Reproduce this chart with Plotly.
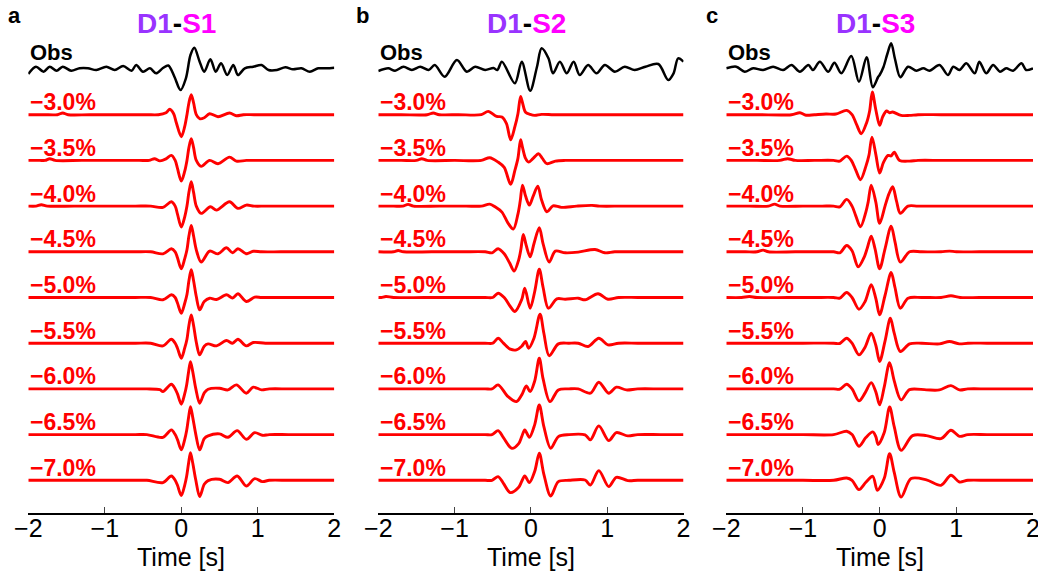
import plotly.graph_objects as go

# ---------------------------------------------------------------------------
# Waveform data: (time [s], normalized amplitude) knots for each trace.
# Amplitudes share one arbitrary scale; traces are stacked by TRACE_STEP.
# ---------------------------------------------------------------------------
PERCENTS = [-3.0, -3.5, -4.0, -4.5, -5.0, -5.5, -6.0, -6.5, -7.0]
TICKS = [-2, -1, 0, 1, 2]
PANEL_LETTERS = ["a", "b", "c"]
PANEL_STATIONS = ["S1", "S2", "S3"]

# ---- D1-S1 ----
a_obs = [(-2.0, -5), (-1.9, 2.3), (-1.8, -2.7), (-1.72, 2.3), (-1.63, -1.7), (-1.55, 2.3),
         (-1.44, -1.7), (-1.33, 0.7), (-1.22, 0.7), (-1.11, -1), (-0.98, 2.3), (-0.87, -1),
         (-0.76, 3), (-0.65, -1.7), (-0.59, 4), (-0.5, -2.7), (-0.41, 0.7), (-0.33, -4.3),
         (-0.24, 1), (-0.17, 3.5), (-0.09, -7.7), (-0.01, -21), (0.06, -9.3), (0.12, 14),
         (0.17, 21.3), (0.24, 7.3), (0.3, -2.7), (0.38, 9.7), (0.45, -2.7), (0.52, 5.7),
         (0.6, -6), (0.68, 4), (0.74, -6), (0.83, 0.7), (0.94, 2.3), (1.05, 4), (1.14, -1),
         (1.25, -1), (1.36, 1.7), (1.46, -0.3), (1.57, 0.7), (1.68, -2.7), (1.79, 0.7),
         (1.9, 0.7), (2.0, 1.3)]
a_m30 = [(-2, 0), (-1.8, 0), (-1.62, 0), (-1.55, 1.7), (-1.48, 0), (-1.2, 0), (-0.8, 0),
         (-0.45, 0), (-0.3, 0), (-0.2, 2), (-0.15, 5.5), (-0.1, 1), (-0.065, -8), (0, -22),
         (0.044, -12), (0.074, 0), (0.1, 12), (0.13, 20), (0.16, 12), (0.196, 0), (0.24, -4),
         (0.3, -3), (0.37, 1), (0.48, -2), (0.63, 1.7), (0.72, -1), (0.81, 0), (0.95, 0),
         (1.3, 0), (1.7, 0), (2, 0)]
a_m35 = [(-2, 0), (-1.85, 0), (-1.78, 0), (-1.72, 1.7), (-1.65, 0), (-1.3, 0), (-0.9, 0),
         (-0.55, 0), (-0.42, 0), (-0.35, 1.7), (-0.28, -0.5), (-0.2, 1.5), (-0.13, 5), (-0.08, 0),
         (-0.05, -8), (0, -20.7), (0.044, -11), (0.074, 0), (0.1, 13), (0.13, 21.7), (0.16, 13),
         (0.196, 0), (0.26, -6), (0.37, 0), (0.48, -3.3), (0.63, 3.3), (0.72, -0.7), (0.85, 0),
         (1.0, 0), (1.4, 0), (1.8, 0), (2, 0)]
a_m40 = [(-2, 0), (-1.9, 0), (-1.83, 1.3), (-1.75, 0), (-1.4, 0), (-1.0, 0), (-0.6, 0),
         (-0.4, 0), (-0.24, -1.3), (-0.13, 4.3), (-0.08, 0), (-0.05, -8), (0, -21), (0.044, -11),
         (0.074, 0), (0.1, 14), (0.13, 24.3), (0.16, 14), (0.196, 0), (0.26, -7.3), (0.38, -0.7),
         (0.46, -4), (0.63, 4.3), (0.74, -2.3), (0.85, 1), (0.95, 0), (1.1, 0), (1.5, 0),
         (2, 0)]
a_m45 = [(-2, 0), (-1.5, 0), (-1.0, 0), (-0.6, 0), (-0.4, 0), (-0.24, -2), (-0.13, 3),
         (-0.08, 0), (-0.05, -6), (0, -17), (0.044, -7), (0.074, 2), (0.1, 16), (0.13, 26.3),
         (0.16, 16), (0.196, 2), (0.26, -10.3), (0.37, 0.7), (0.48, -2), (0.59, 4), (0.67, -1),
         (0.74, 3), (0.85, -2), (0.94, 0.5), (1.05, 0), (1.3, 0), (1.7, 0), (2, 0)]
a_m50 = [(-2, 0), (-1.5, 0), (-1.0, 0), (-0.6, 0), (-0.4, 0), (-0.24, -2.3), (-0.13, 2.7),
         (-0.08, 0), (-0.05, -5.5), (0, -15.7), (0.044, -6), (0.074, 3), (0.1, 17), (0.13, 27.7),
         (0.16, 17), (0.196, 1), (0.24, -12.3), (0.3, -4), (0.37, -0.7), (0.46, -2), (0.59, 2.7),
         (0.67, -0.5), (0.74, 3.7), (0.85, -4), (0.96, 0.3), (1.05, 0), (1.3, 0), (1.7, 0),
         (2, 0)]
a_m55 = [(-2, 0), (-1.5, 0), (-1.0, 0), (-0.6, 0), (-0.4, 0), (-0.24, -2.7), (-0.13, 4),
         (-0.08, 0), (-0.05, -5), (0, -15), (0.044, -5), (0.074, 4), (0.1, 18), (0.13, 28.3),
         (0.16, 18), (0.196, 1), (0.24, -11.7), (0.3, -3), (0.35, -0.7), (0.46, -2.7),
         (0.59, 2.7), (0.67, 0), (0.74, 4), (0.85, -2.7), (0.94, 0.7), (1.1, 0), (1.4, 0),
         (1.7, 0), (2, 0)]
a_m60 = [(-2, 0), (-1.5, 0), (-1.0, 0), (-0.6, 0), (-0.45, 0), (-0.28, -0.7), (-0.24, -2.7),
         (-0.13, 4.7), (-0.08, 0), (-0.05, -5), (0, -15.3), (0.044, -5), (0.07, 4), (0.095, 17),
         (0.12, 27.3), (0.15, 17), (0.19, 0), (0.24, -14.3), (0.3, -4), (0.35, -0.3), (0.5, 0.7),
         (0.61, -1), (0.72, 4), (0.85, -4.3), (0.94, 1.7), (1.05, -1), (1.15, 0), (1.4, 0),
         (1.7, 0), (2, 0)]
a_m65 = [(-2, 0), (-1.5, 0), (-1.0, 0), (-0.6, 0), (-0.45, 0), (-0.24, -2.7), (-0.13, 4.7),
         (-0.08, 0), (-0.05, -5), (0, -15.3), (0.044, -5), (0.07, 4), (0.095, 17), (0.12, 28),
         (0.15, 17), (0.19, 0), (0.24, -15.3), (0.3, -4), (0.35, -1.3), (0.5, 0.7), (0.61, -2.7),
         (0.73, 4), (0.85, -4.7), (0.96, 2), (1.06, -0.7), (1.15, 0), (1.4, 0), (1.7, 0),
         (2, 0)]
a_m70 = [(-2, 0), (-1.5, 0), (-1.0, 0), (-0.6, 0), (-0.45, 0), (-0.24, -2.3), (-0.13, 4.3),
         (-0.08, 0), (-0.05, -5), (0, -15.3), (0.044, -5), (0.07, 4), (0.095, 17), (0.12, 27.7),
         (0.15, 17), (0.19, 0), (0.24, -16.3), (0.3, -4), (0.35, -0.3), (0.5, 1), (0.61, -2.3),
         (0.73, 4.3), (0.85, -5.7), (0.96, 1.7), (1.06, -1.3), (1.15, 0), (1.4, 0), (1.7, 0),
         (2, 0)]

# ---- D1-S2 ----
b_obs = [(-2.0, -2), (-1.87, 0.7), (-1.78, -1.7), (-1.67, 2.3), (-1.56, -1), (-1.45, 2.3),
         (-1.34, -1), (-1.26, 4), (-1.13, -7.7), (-0.97, 9), (-0.84, -2.7), (-0.73, 2.3),
         (-0.6, -1), (-0.49, 1), (-0.44, -1), (-0.38, 7.3), (-0.21, -14.3), (-0.12, 7.3),
         (-0.01, -21.7), (0.08, 2.3), (0.14, 20.7), (0.23, 10.7), (0.29, -4.3), (0.38, 7.3),
         (0.47, -4.3), (0.56, 7.3), (0.64, -6), (0.75, 4), (0.86, -4.3), (0.97, 4), (1.1, -2.7),
         (1.23, 2.3), (1.36, -1), (1.5, 2.3), (1.67, 5), (1.8, -11), (1.87, -4.3), (1.93, 10.7),
         (2.0, 7.3)]
b_m30 = [(-2, 0), (-1.7, 0), (-1.36, 0), (-1.28, 1.7), (-1.2, 0), (-0.95, 0), (-0.65, 0),
         (-0.56, 3.3), (-0.45, -1.7), (-0.38, -2.3), (-0.32, -9), (-0.265, -25), (-0.21, -12),
         (-0.17, 1), (-0.135, 18.3), (-0.11, 12), (-0.07, 2.5), (-0.01, 0.3), (0.05, -0.7),
         (0.14, 0.3), (0.3, 0), (0.6, 0), (1.0, 0), (1.5, 0), (2, 0)]
b_m35 = [(-2, 0), (-1.7, 0), (-1.5, 0), (-1.43, 1.7), (-1.36, 0), (-1.0, 0), (-0.65, 0),
         (-0.54, 2.7), (-0.43, -1.7), (-0.35, -7), (-0.265, -24), (-0.21, -10), (-0.17, 2),
         (-0.135, 20.7), (-0.11, 13), (-0.07, 2), (-0.03, -1.7), (0.03, 2), (0.1, 6.7), (0.15, 2),
         (0.21, -3.3), (0.32, -0.7), (0.45, 0), (0.7, 0), (1.1, 0), (1.5, 0), (2, 0)]
b_m40 = [(-2, 0), (-1.8, 0), (-1.68, 0), (-1.61, 1.7), (-1.54, 0), (-1.2, 0), (-0.85, 0),
         (-0.65, 0), (-0.54, 2), (-0.47, -0.7), (-0.38, -6), (-0.3, -17), (-0.23, -23),
         (-0.17, -8), (-0.14, 5), (-0.11, 21), (-0.07, 10), (-0.02, 1), (0.03, 10), (0.09, 20),
         (0.14, 6), (0.21, -5.7), (0.29, 0.3), (0.4, -1.3), (0.6, 0), (0.8, 0.7), (0.9, 0),
         (1.2, 0), (1.6, 0), (2, 0)]
b_m45 = [(-2, 0), (-1.8, 0), (-1.74, 1.3), (-1.67, 0), (-1.3, 0), (-0.9, 0), (-0.6, 0),
         (-0.51, -1), (-0.43, 3), (-0.35, -2), (-0.28, -11), (-0.22, -19.3), (-0.16, -8),
         (-0.13, 3), (-0.1, 17.3), (-0.06, 6), (-0.01, -5), (0.04, 8), (0.11, 24), (0.16, 8),
         (0.24, -10.3), (0.32, 0.7), (0.45, -1), (0.62, -0.3), (0.84, 2.3), (0.97, -1), (1.1, 0),
         (1.4, 0), (1.7, 0), (2, 0)]
b_m50 = [(-2, 0), (-1.96, 0), (-1.9, 1), (-1.8, 0), (-1.4, 0), (-1.0, 0), (-0.6, 0), (-0.5, 0),
         (-0.43, 4.3), (-0.35, 0), (-0.27, -9), (-0.21, -14), (-0.12, -2), (-0.08, 9.3),
         (-0.01, -10.7), (0.05, 6), (0.11, 28.3), (0.16, 10), (0.23, -10.7), (0.34, -1.3),
         (0.45, -1.7), (0.62, -0.7), (0.71, -2.3), (0.88, 3.7), (1.01, -1.7), (1.15, 0),
         (1.4, 0), (1.7, 0), (2, 0)]
b_m55 = [(-2, 0), (-1.5, 0), (-1.0, 0), (-0.6, 0), (-0.5, 0), (-0.43, 5), (-0.36, 0),
         (-0.27, -6), (-0.19, -6.7), (-0.12, -3), (-0.07, 1.7), (-0.03, -5), (0.04, 5),
         (0.12, 29), (0.17, 10), (0.24, -12.5), (0.36, -0.7), (0.5, 0), (0.62, 0), (0.75, -3.3),
         (0.89, 5), (1.01, -1.7), (1.15, 0), (1.4, 0), (1.7, 0), (2, 0)]
b_m60 = [(-2, 0), (-1.5, 0), (-1.0, 0), (-0.6, 0), (-0.51, 0), (-0.43, 4), (-0.3, -7.7),
         (-0.19, -12.7), (-0.12, -6), (-0.06, 3), (-0.01, -2.7), (0.05, 8), (0.11, 30.7),
         (0.16, 10), (0.25, -12.7), (0.36, -1), (0.5, 0), (0.62, 0), (0.78, -4.3), (0.89, 6.7),
         (1.02, -4.3), (1.12, 1.7), (1.25, -1), (1.4, 0), (1.7, 0), (2, 0)]
b_m65 = [(-2, 0), (-1.5, 0), (-1.0, 0), (-0.6, 0), (-0.51, 0), (-0.43, 4), (-0.36, -3),
         (-0.25, -13.7), (-0.16, -9), (-0.12, -2), (-0.08, 4.7), (-0.02, -2.7), (0.05, 10),
         (0.11, 29.7), (0.17, 8), (0.26, -13.7), (0.36, -2), (0.5, 0), (0.71, -0.3), (0.78, -5.3),
         (0.89, 8.7), (1.02, -6), (1.12, 2), (1.27, -1.3), (1.4, 0), (1.7, 0), (2, 0)]
b_m70 = [(-2, 0), (-1.5, 0), (-1.0, 0), (-0.6, 0), (-0.51, 0), (-0.43, 3.7), (-0.36, -3),
         (-0.27, -12.3), (-0.16, -7), (-0.12, -1), (-0.08, 4.3), (-0.02, -2.3), (0.05, 9),
         (0.11, 27), (0.17, 6), (0.26, -15.7), (0.36, -1.3), (0.5, 0), (0.71, 0.3), (0.78, -4.7),
         (0.89, 9.7), (1.02, -6.3), (1.12, 3), (1.27, -0.3), (1.4, 0), (1.7, 0), (2, 0)]

# ---- D1-S3 ----
c_obs = [(-2.0, 0.7), (-1.87, 2.3), (-1.76, -2.7), (-1.65, 0.7), (-1.52, -1), (-1.39, 2.3),
         (-1.26, -1), (-1.15, 4), (-1.04, -2.7), (-0.93, 4), (-0.87, -1), (-0.78, 7.3),
         (-0.67, -2.7), (-0.59, 6.3), (-0.5, -4.3), (-0.37, 13), (-0.27, -12.7), (-0.17, 11.7),
         (-0.09, -18.3), (-0.02, -8), (0.0, -6), (0.05, 2), (0.1, 15), (0.15, 25.7), (0.2, 10),
         (0.27, -8.3), (0.37, 2.3), (0.48, -1.7), (0.57, 0.7), (0.65, -1.7), (0.78, 4),
         (0.89, -6), (0.96, 2.3), (1.04, -1), (1.13, 5.7), (1.24, -4.3), (1.3, 7.3), (1.39, -4.3),
         (1.48, 4), (1.57, -2.7), (1.65, 0.7), (1.74, -1.7), (1.85, 5.7), (1.91, -1), (2.0, 0.7)]
c_m30 = [(-2, 0), (-1.6, 0), (-1.15, 0), (-1.04, 2), (-0.96, -0.5), (-0.85, 0), (-0.7, 0.7),
         (-0.57, 0.7), (-0.43, 4.3), (-0.36, 0), (-0.3, -10), (-0.24, -19), (-0.17, -8),
         (-0.13, 4), (-0.096, 22.7), (-0.05, 5), (0, -10.7), (0.04, -2), (0.09, 3.7), (0.13, 2),
         (0.17, 2.7), (0.28, -0.7), (0.39, -0.7), (0.5, 0), (0.8, 0), (1.2, 0), (1.6, 0),
         (2, 0)]
c_m35 = [(-2, 0), (-1.6, 0), (-1.3, 0), (-1.2, 1.7), (-1.1, 0), (-0.85, 0), (-0.6, 0),
         (-0.52, -0.7), (-0.43, 4.3), (-0.37, 0), (-0.31, -10), (-0.25, -19.3), (-0.18, -6),
         (-0.14, 5), (-0.1, 23.3), (-0.05, 6), (0, -12.7), (0.05, -2), (0.11, 5), (0.15, 4.5),
         (0.19, 8.3), (0.26, 0), (0.39, -0.7), (0.5, 0), (0.8, 0), (1.2, 0), (1.6, 0), (2, 0)]
c_m40 = [(-2, 0), (-1.7, 0), (-1.45, 0), (-1.37, 2), (-1.3, 0), (-1.0, 0), (-0.75, 0),
         (-0.6, 0), (-0.52, -0.7), (-0.43, 6.7), (-0.36, 0), (-0.31, -10), (-0.25, -20.7),
         (-0.18, -6), (-0.15, 4), (-0.11, 21), (-0.05, 4), (0, -17.3), (0.07, 0), (0.12, 12),
         (0.17, 19.3), (0.22, 5), (0.27, -7.3), (0.37, 0), (0.5, 0), (0.8, 0), (1.2, 0),
         (1.6, 0), (2, 0)]
c_m45 = [(-2, 0), (-1.75, 0), (-1.6, 0), (-1.52, 1.7), (-1.45, 0), (-1.1, 0), (-0.8, 0),
         (-0.6, 0), (-0.52, -1), (-0.43, 6.3), (-0.36, 1), (-0.28, -15), (-0.2, -5), (-0.16, 4),
         (-0.11, 15.7), (-0.06, 3), (0, -17), (0.07, 3), (0.15, 25.7), (0.2, 10), (0.27, -10.3),
         (0.39, 0), (0.55, 0), (0.8, 0), (0.91, 0.7), (1.0, 0), (1.3, 0), (1.6, 0), (2, 0)]
c_m50 = [(-2, 0), (-1.8, 0), (-1.7, 1), (-1.6, 0), (-1.2, 0), (-0.85, 0), (-0.6, 0),
         (-0.52, -0.7), (-0.43, 5), (-0.36, 0), (-0.27, -11.7), (-0.19, -4), (-0.11, 12.7),
         (-0.05, -1), (0, -17.3), (0.07, 2), (0.15, 25), (0.2, 10), (0.27, -10.7), (0.37, -0.7),
         (0.55, 0), (0.8, 0), (0.93, 1.7), (1.05, 0), (1.3, 0), (1.6, 0), (2, 0)]
c_m55 = [(-2, 0), (-1.5, 0), (-1.0, 0), (-0.6, 0), (-0.52, -0.3), (-0.43, 5), (-0.36, 0),
         (-0.27, -11.7), (-0.19, -4), (-0.11, 10), (-0.05, -2), (0, -18.3), (0.07, 2), (0.14, 25),
         (0.19, 10), (0.27, -8.3), (0.39, -0.7), (0.55, 0), (0.78, -0.7), (0.91, 1.7),
         (1.04, -0.7), (1.15, 0), (1.4, 0), (1.7, 0), (2, 0)]
c_m60 = [(-2, 0), (-1.5, 0), (-1.0, 0), (-0.6, 0), (-0.52, -0.3), (-0.43, 4.7), (-0.36, 0),
         (-0.27, -12), (-0.19, -4), (-0.11, 6.3), (-0.05, -3), (0, -16), (0.06, 2), (0.13, 26.3),
         (0.19, 8), (0.28, -11), (0.39, -0.7), (0.61, -1), (0.78, -1), (0.93, 3.3), (1.04, -1),
         (1.15, 0), (1.4, 0), (1.7, 0), (2, 0)]
c_m65 = [(-2, 0), (-1.5, 0), (-1.0, 0), (-0.6, 0), (-0.43, 3.3), (-0.36, 0), (-0.27, -11.7),
         (-0.18, -3), (-0.09, 2.7), (-0.05, -2), (-0.02, -10), (0.06, 2), (0.13, 27.7), (0.19, 8),
         (0.28, -15.7), (0.43, -1), (0.61, -1), (0.8, -4), (0.93, 4.3), (1.04, -1.7), (1.15, 0),
         (1.4, 0), (1.7, 0), (2, 0)]
c_m70 = [(-2, 0), (-1.5, 0), (-1.0, 0), (-0.6, 0), (-0.43, 2.3), (-0.36, 0), (-0.27, -9.3),
         (-0.18, -2), (-0.09, 4), (-0.03, -10), (0.06, 2), (0.13, 26.7), (0.19, 8), (0.28, -16.7),
         (0.41, 1.7), (0.61, 0.5), (0.8, -5), (0.93, 5), (1.04, -1.7), (1.15, 0), (1.4, 0),
         (1.7, 0), (2, 0)]

PANEL_OBS = [a_obs, b_obs, c_obs]
PANEL_SYN = [
    [a_m30, a_m35, a_m40, a_m45, a_m50, a_m55, a_m60, a_m65, a_m70],
    [b_m30, b_m35, b_m40, b_m45, b_m50, b_m55, b_m60, b_m65, b_m70],
    [c_m30, c_m35, c_m40, c_m45, c_m50, c_m55, c_m60, c_m65, c_m70],
]

# ---------------------------------------------------------------------------
# Layout / style
# ---------------------------------------------------------------------------
W, H = 1038, 573
MT, MB = 35, 60
PLOT_H = H - MT - MB
TRACE_STEP = 45.7
Y_RANGE = [-444, 34]
X_DOMAINS = [[28.3 / W, 334.3 / W], [378.3 / W, 683.5 / W], [726.3 / W, 1033.0 / W]]
TITLE_X = [176.7 / W, 526.7 / W, 875.5 / W]
LETTER_X = [14.0 / W, 362.5 / W, 712.0 / W]
FONT = "Liberation Sans, Arial, sans-serif"
RED = "#FF0000"
PURPLE = "#9933FF"
MAGENTA = "#FF00FF"


def paper_y(px):
    """Vertical pixel position (from top) -> paper coordinate."""
    return (H - MB - px) / PLOT_H


def pct_label(p):
    return f"{p:.1f}%".replace("-", "\u2212")


fig = go.Figure()
annotations = []

for i in range(3):
    xa = "x" if i == 0 else f"x{i + 1}"
    ya = "y" if i == 0 else f"y{i + 1}"

    # observed trace
    t, amp = zip(*PANEL_OBS[i])
    fig.add_trace(go.Scatter(
        x=list(t), y=list(amp), mode="lines", xaxis=xa, yaxis=ya,
        line=dict(color="black", width=2.5, shape="spline", smoothing=0.9),
        hoverinfo="skip", showlegend=False, cliponaxis=False,
    ))
    annotations.append(dict(
        x=-2, y=17, xref=xa, yref=ya, text="<b>Obs</b>", showarrow=False,
        xanchor="left", yanchor="middle", font=dict(family=FONT, size=22, color="black"),
    ))

    # synthetic traces, stacked downward
    for k, (p, tr) in enumerate(zip(PERCENTS, PANEL_SYN[i]), start=1):
        base = -k * TRACE_STEP
        t, amp = zip(*tr)
        fig.add_trace(go.Scatter(
            x=list(t), y=[base + v for v in amp], mode="lines", xaxis=xa, yaxis=ya,
            line=dict(color=RED, width=2.9, shape="spline", smoothing=0.9),
            hoverinfo="skip", showlegend=False, cliponaxis=False,
        ))
        annotations.append(dict(
            x=-2, y=base + 12.6, xref=xa, yref=ya, text=f"<b>{pct_label(p)}</b>",
            showarrow=False, xanchor="left", yanchor="middle",
            font=dict(family=FONT, size=23, color=RED),
        ))

    # panel title, letter and axis title
    annotations.append(dict(
        x=TITLE_X[i], y=paper_y(23.5), xref="paper", yref="paper", showarrow=False,
        xanchor="center", yanchor="middle",
        text=(f"<b><span style='color:{PURPLE}'>D1</span>-"
              f"<span style='color:{MAGENTA}'>{PANEL_STATIONS[i]}</span></b>"),
        font=dict(family=FONT, size=28, color="black"),
    ))
    annotations.append(dict(
        x=LETTER_X[i], y=paper_y(16), xref="paper", yref="paper", showarrow=False,
        xanchor="center", yanchor="middle",
        text=f"<b>{PANEL_LETTERS[i]}</b>", font=dict(family=FONT, size=22, color="black"),
    ))
    annotations.append(dict(
        x=0, y=paper_y(557), xref=xa, yref="paper", showarrow=False,
        xanchor="center", yanchor="middle", text="Time [s]",
        font=dict(family=FONT, size=25, color="black"),
    ))

    axis_x = dict(
        domain=X_DOMAINS[i], range=[-2, 2], anchor=ya,
        showline=True, linecolor="black", linewidth=1.6, mirror=False,
        ticks="inside", ticklen=6, tickwidth=1, tickcolor="#444444",
        tickvals=TICKS, ticktext=[str(v).replace("-", "\u2212") for v in TICKS],
        tickfont=dict(family=FONT, size=25, color="black"),
        ticklabelstandoff=-8, ticklabeloverflow="allow",
        showgrid=False, zeroline=False, automargin=False,
    )
    axis_y = dict(
        domain=[0, 1], range=Y_RANGE, anchor=xa, visible=False,
        showgrid=False, zeroline=False, fixedrange=True,
    )
    key = "" if i == 0 else str(i + 1)
    fig.layout[f"xaxis{key}"] = axis_x
    fig.layout[f"yaxis{key}"] = axis_y

fig.update_layout(
    width=W, height=H,
    margin=dict(l=0, r=0, t=MT, b=MB, pad=0),
    paper_bgcolor="white", plot_bgcolor="white",
    annotations=annotations,
    font=dict(family=FONT),
)

fig.write_html("out.html")
